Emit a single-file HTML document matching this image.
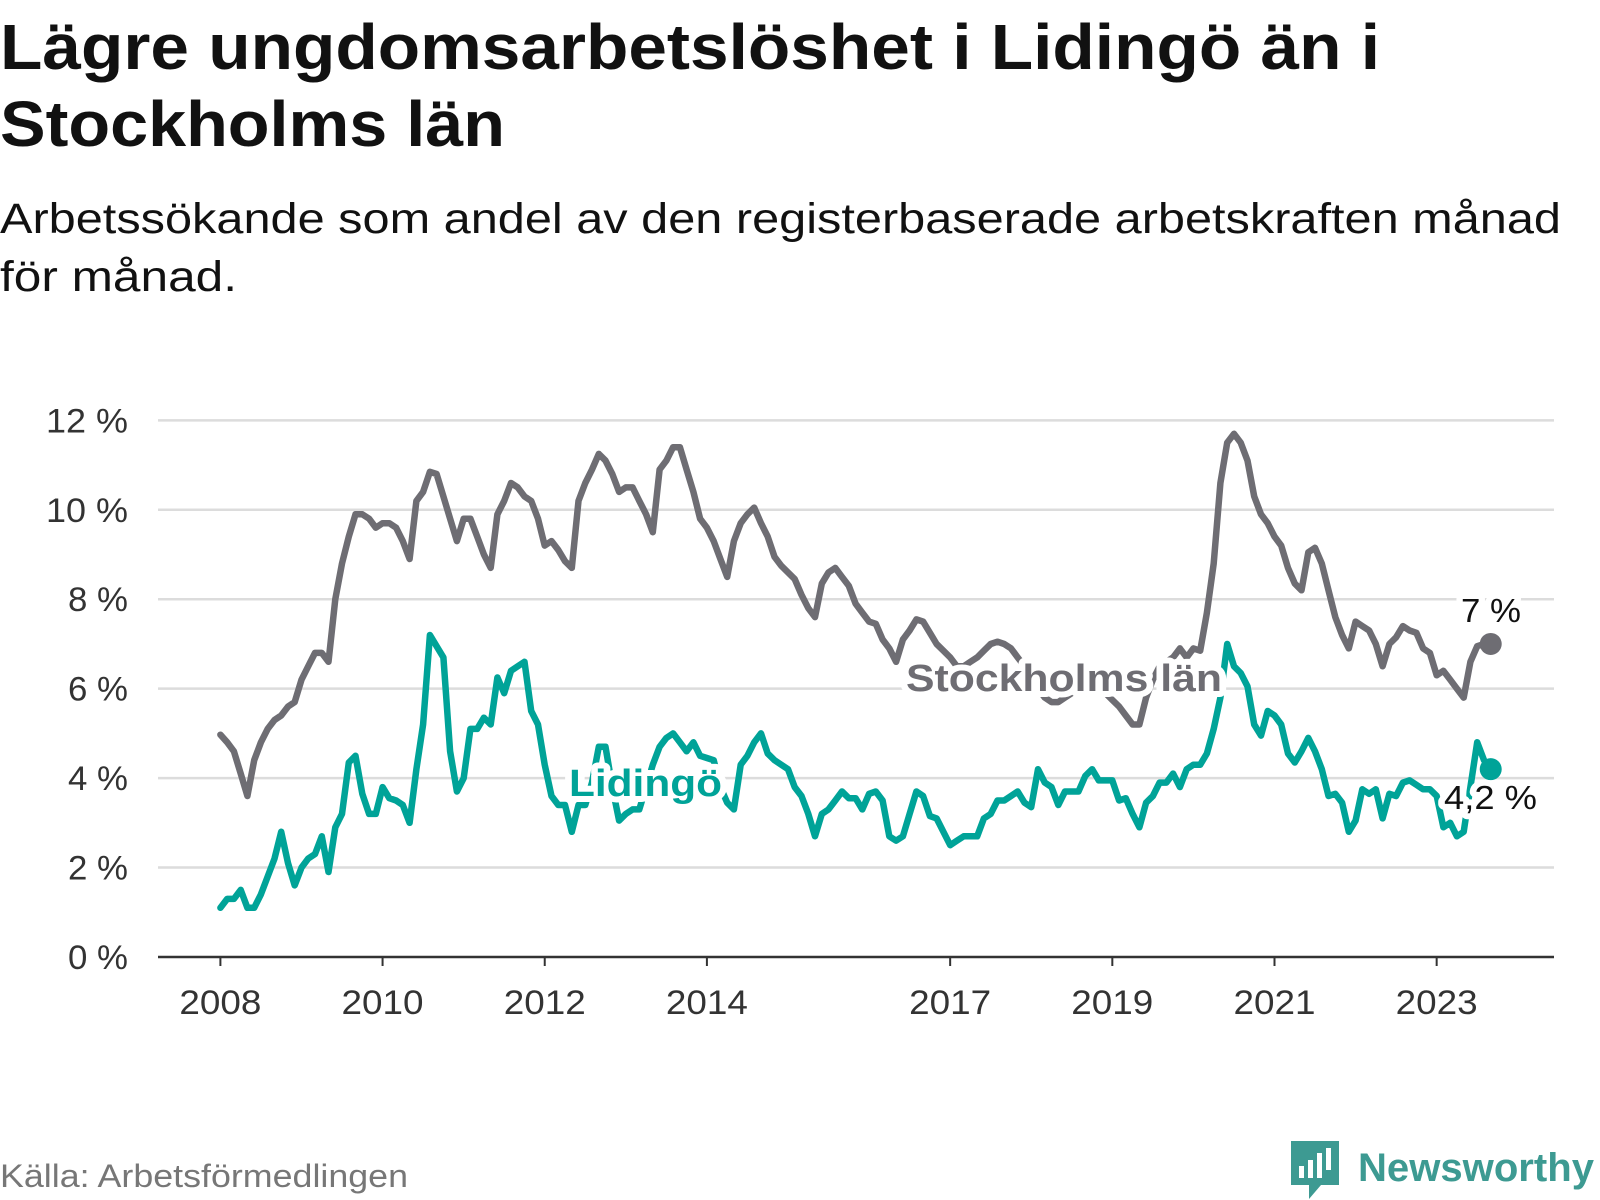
<!DOCTYPE html>
<html><head><meta charset="utf-8"><style>
html,body{margin:0;padding:0;background:#fff;}
svg{display:block;font-family:"Liberation Sans",sans-serif;}
</style></head><body>
<svg id="chart" width="1600" height="1200" viewBox="0 0 1600 1200" xmlns="http://www.w3.org/2000/svg">
<text x="0" y="69" font-size="64" font-weight="bold" fill="#111" textLength="1380" lengthAdjust="spacingAndGlyphs">Lägre ungdomsarbetslöshet i Lidingö än i</text>
<text x="0" y="146" font-size="64" font-weight="bold" fill="#111" textLength="505" lengthAdjust="spacingAndGlyphs">Stockholms län</text>
<text x="0" y="233" font-size="43" fill="#111" textLength="1561" lengthAdjust="spacingAndGlyphs">Arbetssökande som andel av den registerbaserade arbetskraften månad</text>
<text x="0" y="291" font-size="43" fill="#111" textLength="237" lengthAdjust="spacingAndGlyphs">för månad.</text>
<g id="grid"></g>
<g id="yticks"></g>
<g id="xaxis"></g>
<g id="series"></g>
<g id="labels"></g>
<text x="0" y="1187" font-size="32" fill="#777" textLength="408" lengthAdjust="spacingAndGlyphs">Källa: Arbetsförmedlingen</text>
<g>
  <path d="M1291 1141 h48 v44 h-18 l-12 14 v-14 h-18 z" fill="#3d9a92"/>
  <rect x="1299" y="1166" width="5" height="12" fill="#fff"/>
  <rect x="1308" y="1160" width="5" height="18" fill="#fff"/>
  <rect x="1317" y="1153" width="5" height="25" fill="#fff"/>
  <rect x="1326" y="1148" width="5" height="22" fill="#fff"/>
  <text x="1358" y="1181" font-size="40" font-weight="bold" fill="#3d9a92" textLength="236" lengthAdjust="spacingAndGlyphs">Newsworthy</text>
</g>
</svg>
<script>
const yTicks = [0, 2, 4, 6, 8, 10, 12];
const yTickLabels = ["0 %", "2 %", "4 %", "6 %", "8 %", "10 %", "12 %"];
const xTickYears = [2008, 2010, 2012, 2014, 2017, 2019, 2021, 2023];
const startYear = 2008;
const stockholm = [
4.97,4.8,4.6,4.1,3.6,4.4,4.8,5.1,5.3,5.4,5.6,5.7,
6.2,6.5,6.8,6.8,6.6,8.0,8.8,9.4,9.9,9.9,9.8,9.6,
9.7,9.7,9.6,9.3,8.9,10.2,10.4,10.85,10.8,10.3,9.8,9.3,
9.8,9.8,9.4,9.0,8.7,9.9,10.2,10.6,10.5,10.3,10.2,9.8,
9.2,9.3,9.1,8.85,8.7,10.2,10.6,10.9,11.25,11.1,10.8,10.4,
10.5,10.5,10.2,9.9,9.5,10.9,11.1,11.4,11.4,10.9,10.4,9.8,
9.6,9.3,8.9,8.5,9.3,9.7,9.9,10.05,9.7,9.4,8.95,8.75,
8.6,8.45,8.1,7.8,7.6,8.35,8.6,8.7,8.5,8.3,7.9,7.7,
7.5,7.45,7.1,6.9,6.6,7.1,7.3,7.55,7.5,7.25,7.0,6.85,
6.7,6.5,6.5,6.6,6.7,6.85,7.0,7.05,7.0,6.9,6.7,6.5,
6.2,6.0,5.8,5.7,5.7,5.8,5.9,6.0,5.9,5.9,6.0,5.9,
5.75,5.6,5.4,5.2,5.2,5.8,6.2,6.5,6.6,6.7,6.9,6.7,
6.9,6.85,7.7,8.8,10.6,11.5,11.7,11.5,11.1,10.3,9.9,9.7,
9.4,9.2,8.7,8.35,8.2,9.05,9.15,8.8,8.2,7.6,7.2,6.9,
7.5,7.4,7.3,7.0,6.5,7.0,7.15,7.4,7.3,7.25,6.9,6.8,
6.3,6.4,6.2,6.0,5.8,6.6,6.95,7.0,7.0];
const lidingo = [
1.1,1.3,1.3,1.5,1.1,1.1,1.4,1.8,2.2,2.8,2.1,1.6,
2.0,2.2,2.3,2.7,1.9,2.9,3.2,4.35,4.5,3.65,3.2,3.2,
3.8,3.55,3.5,3.4,3.0,4.2,5.2,7.2,6.95,6.7,4.6,3.7,
4.0,5.1,5.1,5.35,5.2,6.25,5.9,6.4,6.5,6.6,5.5,5.2,
4.3,3.6,3.4,3.4,2.8,3.4,3.4,3.9,4.7,4.7,3.8,3.05,
3.2,3.3,3.3,3.8,4.3,4.7,4.9,5.0,4.8,4.6,4.8,4.5,
4.45,4.4,3.8,3.45,3.3,4.3,4.5,4.8,5.0,4.55,4.4,4.3,
4.2,3.8,3.6,3.2,2.7,3.2,3.3,3.5,3.7,3.55,3.55,3.3,
3.65,3.7,3.5,2.7,2.6,2.7,3.2,3.7,3.6,3.15,3.1,2.8,
2.5,2.6,2.7,2.7,2.7,3.1,3.2,3.5,3.5,3.6,3.7,3.45,
3.35,4.2,3.9,3.8,3.4,3.7,3.7,3.7,4.05,4.2,3.95,3.95,
3.95,3.5,3.55,3.2,2.9,3.45,3.6,3.9,3.9,4.1,3.8,4.2,
4.3,4.3,4.55,5.1,5.8,7.0,6.5,6.35,6.05,5.2,4.95,5.5,
5.4,5.2,4.55,4.35,4.6,4.9,4.6,4.2,3.6,3.65,3.45,2.8,
3.05,3.75,3.65,3.75,3.1,3.65,3.6,3.9,3.95,3.85,3.75,3.75,
3.6,2.9,3.0,2.7,2.8,3.8,4.8,4.4,4.2];

const NS = "http://www.w3.org/2000/svg";
const X0 = 220.4, PX_MONTH = 6.757, Y0 = 957, PX_UNIT = 44.72;
function xScale(m){ return X0 + m * PX_MONTH; }
function yScale(v){ return Y0 - v * PX_UNIT; }
function mk(tag, attrs, parent){ const e = document.createElementNS(NS, tag); for (const k in attrs) e.setAttribute(k, attrs[k]); parent.appendChild(e); return e; }

const grid = document.getElementById('grid');
const yg = document.getElementById('yticks');
yTicks.forEach((t, i) => {
  if (t !== 0) {
    const l = mk('line', {x1:158, x2:1554, y1:yScale(t), y2:yScale(t), stroke:'#dcdcdc', 'stroke-width':2.5}, grid);
    
    
  }
  const lbl = yTickLabels[i];
  const tx = mk('text', {x:128, y:yScale(t)+12, 'font-size':34, fill:'#333', 'text-anchor':'end', textLength: lbl.length > 3 ? 82 : 60, lengthAdjust:'spacingAndGlyphs'}, yg);
  tx.textContent = lbl;
  
  
});
const xg = document.getElementById('xaxis');
const axl = mk('line', {x1:158, x2:1554, y1:Y0, y2:Y0, stroke:'#333', 'stroke-width':2.5}, xg);


xTickYears.forEach(yr => {
  const x = xScale((yr - startYear) * 12);
  const tk = mk('line', {x1:x, x2:x, y1:Y0, y2:Y0+9, stroke:'#333', 'stroke-width':2}, xg);
  
  
  const tx = mk('text', {x:x, y:1014, 'font-size':34, fill:'#333', 'text-anchor':'middle', textLength:82, lengthAdjust:'spacingAndGlyphs'}, xg);
  tx.textContent = yr;
  
  
});

const sg = document.getElementById('series');
function drawLine(arr, color, name){
  const d = arr.map((v, i) => (i ? 'L' : 'M') + xScale(i).toFixed(1) + ' ' + yScale(v).toFixed(1)).join(' ');
  const p = mk('path', {d:d, fill:'none', stroke:color, 'stroke-width':6.5, 'stroke-linejoin':'round', 'stroke-linecap':'round'}, sg);
  
  
  const n = arr.length - 1;
  const c = mk('circle', {cx:xScale(n), cy:yScale(arr[n]), r:11, fill:color}, sg);
  
  
}
drawLine(stockholm, '#6e6d73', 'stockholm');
drawLine(lidingo, '#00a398', 'lidingo');

const lg = document.getElementById('labels');
function label(txt, x, y, size, weight, color, len, name){
  const t = mk('text', {x:x, y:y, 'font-size':size, 'font-weight':weight, fill:color, stroke:'#fff', 'stroke-width':12, 'paint-order':'stroke', 'stroke-linejoin':'round', textLength:len, lengthAdjust:'spacingAndGlyphs'}, lg);
  t.textContent = txt;
  
  
}
label('Stockholms län', 906, 691, 38, 'bold', '#6e6d73', 316, 'stockholm-series-label');
label('Lidingö', 569, 796, 38, 'bold', '#00a398', 153, 'lidingo-series-label');
label('7 %', 1461, 622, 33, 'normal', '#111', 60, 'stockholm-end-value');
label('4,2 %', 1444, 809, 33, 'normal', '#111', 93, 'lidingo-end-value');
</script>
</body></html>
